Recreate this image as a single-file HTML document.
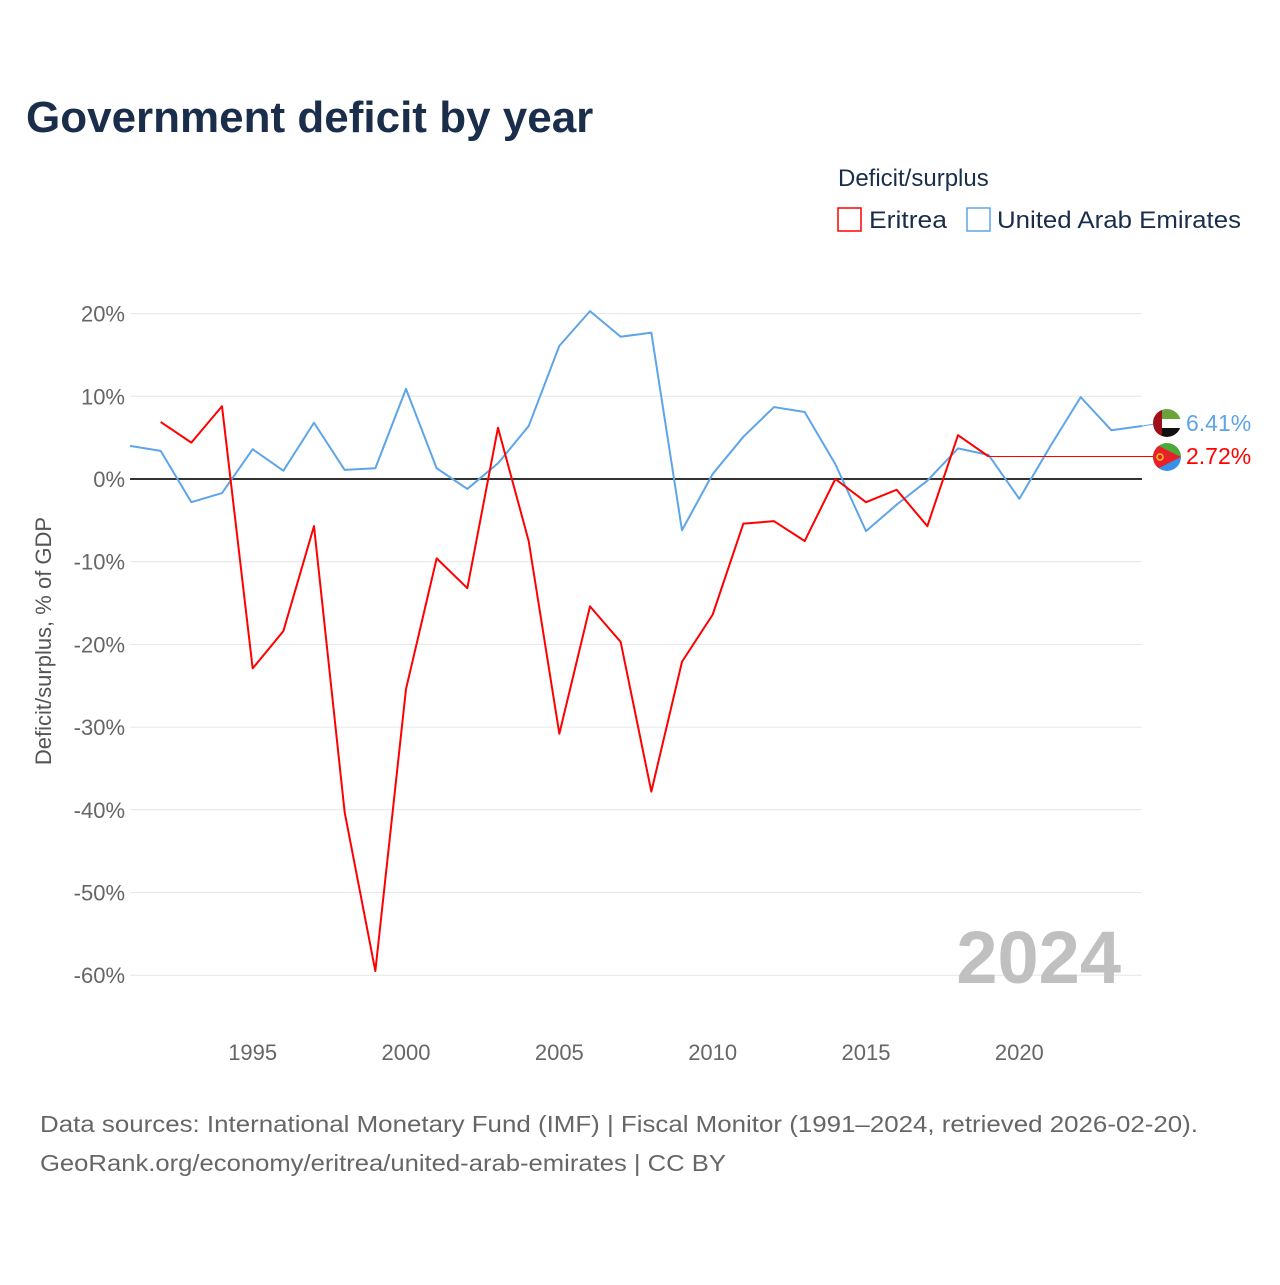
<!DOCTYPE html>
<html><head><meta charset="utf-8"><style>
body{margin:0;background:#fff;font-family:"Liberation Sans",sans-serif}
</style></head><body>
<svg id="chart" width="1280" height="1280" xmlns="http://www.w3.org/2000/svg" style="font-family:'Liberation Sans',sans-serif">
<text x="26" y="132" font-size="44" font-weight="bold" fill="#1a2e4c">Government deficit by year</text>
<text x="838" y="186" font-size="24" fill="#1a2e4c">Deficit/surplus</text>
<g><rect x="838" y="208" width="23" height="23" fill="none" stroke="#f00" stroke-width="1.5"/><text x="869" y="228" font-size="24" fill="#1a2e4c" textLength="78" lengthAdjust="spacingAndGlyphs">Eritrea</text></g>
<g><rect x="967" y="208" width="23" height="23" fill="none" stroke="#5da5e8" stroke-width="1.5"/><text x="997" y="228" font-size="24" fill="#1a2e4c" textLength="244" lengthAdjust="spacingAndGlyphs">United Arab Emirates</text></g>
<g id="grid"></g><g id="axes"></g><g id="series"></g>
<text x="1121" y="983" font-size="74" font-weight="bold" fill="#c0c0c0" text-anchor="end">2024</text>
<text transform="translate(51,641) rotate(-90)" font-size="22" fill="#555" text-anchor="middle">Deficit/surplus, % of GDP</text>
<text x="40" y="1132" font-size="23" fill="#666" textLength="1158" lengthAdjust="spacingAndGlyphs">Data sources: International Monetary Fund (IMF) | Fiscal Monitor (1991–2024, retrieved 2026-02-20).</text>
<text x="40" y="1171" font-size="23" fill="#666" textLength="686" lengthAdjust="spacingAndGlyphs">GeoRank.org/economy/eritrea/united-arab-emirates | CC BY</text>
</svg>
<script>
const yTicks=[20,10,0,-10,-20,-30,-40,-50,-60];
const xTicks=[1995,2000,2005,2010,2015,2020];
const eritreaYears=[1992,1993,1994,1995,1996,1997,1998,1999,2000,2001,2002,2003,2004,2005,2006,2007,2008,2009,2010,2011,2012,2013,2014,2015,2016,2017,2018,2019];
const eritreaValues=[6.9,4.4,8.8,-22.9,-18.4,-5.7,-40.3,-59.5,-25.4,-9.6,-13.2,6.2,-7.5,-30.8,-15.4,-19.7,-37.8,-22.1,-16.4,-5.4,-5.1,-7.5,0,-2.8,-1.3,-5.7,5.3,2.72];
const uaeYears=[1991,1992,1993,1994,1995,1996,1997,1998,1999,2000,2001,2002,2003,2004,2005,2006,2007,2008,2009,2010,2011,2012,2013,2014,2015,2016,2017,2018,2019,2020,2021,2022,2023,2024];
const uaeValues=[4.0,3.4,-2.8,-1.7,3.6,1.0,6.8,1.1,1.3,10.9,1.3,-1.2,1.9,6.4,16.1,20.3,17.2,17.7,-6.2,0.6,5.1,8.7,8.1,1.8,-6.3,-3.1,-0.2,3.7,2.9,-2.4,3.9,9.9,5.9,6.41];
const x=yr=>130+(yr-1991)*(1012/33);
const y=v=>479-v*8.27;
const NS="http://www.w3.org/2000/svg";
function mk(tag,attrs,parent,txt){const e=document.createElementNS(NS,tag);for(const k in attrs)e.setAttribute(k,attrs[k]);if(txt!==undefined)e.textContent=txt;document.getElementById(parent).appendChild(e);return e;}
yTicks.forEach(t=>{
 const l=mk('line',{x1:130,x2:1142,y1:y(t),y2:y(t),stroke:t===0?'#333':'#e6e6e6','stroke-width':t===0?2:1},'grid');
 
 
 const tx=mk('text',{x:125,y:y(t)+8,'font-size':22,fill:'#666','text-anchor':'end'},'axes',t+'%');
 
 
});
xTicks.forEach(t=>{
 const tx=mk('text',{x:x(t),y:1060,'font-size':22,fill:'#666','text-anchor':'middle'},'axes',t);
 
 
});
function line(years,vals,color,name){
 const p=mk('polyline',{points:years.map((yr,i)=>x(yr)+','+y(vals[i])).join(' '),fill:'none',stroke:color,'stroke-width':2,'stroke-linejoin':'round'},'series');
 
 
}
line(uaeYears,uaeValues,'#5da5e8','uae-line');
line(eritreaYears,eritreaValues,'#f00','eritrea-line');
const eLast=eritreaValues[eritreaValues.length-1],eY=eritreaYears[eritreaYears.length-1];
const uLast=uaeValues[uaeValues.length-1];
const c1=mk('line',{x1:x(eY),x2:1155,y1:y(eLast),y2:y(eLast),stroke:'#f00','stroke-width':1},'series');


const c2=mk('line',{x1:1142,x2:1155,y1:y(uLast),y2:y(uLast)-2,stroke:'#5da5e8','stroke-width':1},'series');


const fu=mk('g',{},'series');
fu.innerHTML='<clipPath id="cu"><circle cx="1167" cy="423" r="14"/></clipPath><g clip-path="url(#cu)"><rect x="1153" y="409" width="28" height="10" fill="#6aa33a"/><rect x="1153" y="419" width="28" height="9" fill="#fff"/><rect x="1153" y="428" width="28" height="9" fill="#111"/><rect x="1153" y="409" width="9" height="28" fill="#a0101a"/></g>';
const fe=mk('g',{},'series');
fe.innerHTML='<clipPath id="ce"><circle cx="1167" cy="457" r="14"/></clipPath><g clip-path="url(#ce)"><rect x="1153" y="443" width="28" height="14" fill="#4caa3a"/><rect x="1153" y="457" width="28" height="14" fill="#3a8fe8"/><polygon points="1153,443 1181,457 1153,471" fill="#e8202a"/><circle cx="1160" cy="457" r="3" fill="none" stroke="#f5c518" stroke-width="1.5"/></g>';
const lu=mk('text',{x:1186,y:431,'font-size':23,fill:'#5da5e8'},'series',uLast.toFixed(2)+'%');


const le=mk('text',{x:1186,y:464,'font-size':23,fill:'#f00'},'series',eLast.toFixed(2)+'%');


</script>
</body></html>
